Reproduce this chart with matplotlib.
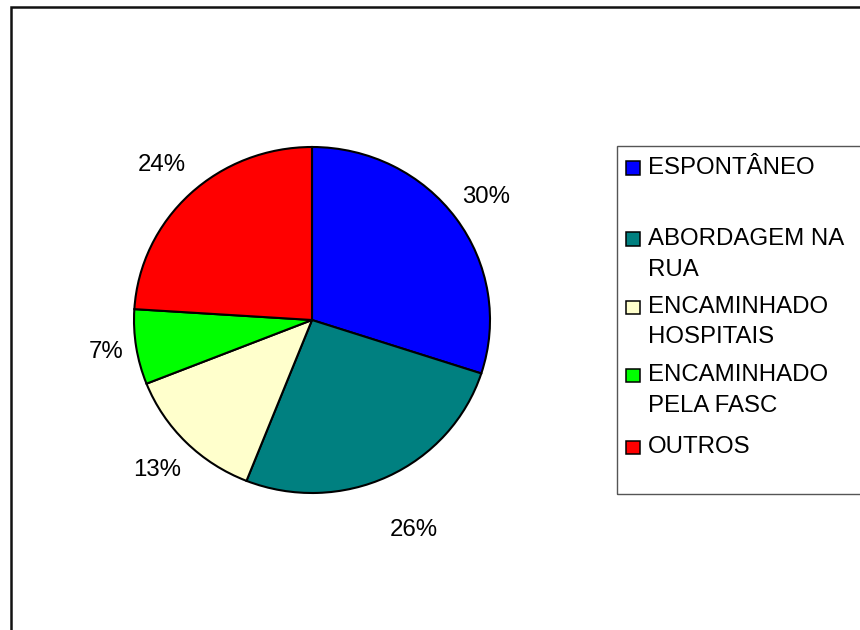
import numpy as np
import matplotlib
matplotlib.use("Agg")
import matplotlib.pyplot as plt
from matplotlib.patches import Rectangle

plt.rcParams['font.family'] = ['Liberation Sans', 'DejaVu Sans']

# Origem dos atendimentos (%)
categories = ["ESPONTÂNEO", "ABORDAGEM NA\nRUA", "ENCAMINHADO\nHOSPITAIS",
              "ENCAMINHADO\nPELA FASC", "OUTROS"]
values = [30, 26, 13, 7, 24]
colors = ["#0000FF", "#008080", "#FFFFCC", "#00FF00", "#FF0000"]

# radial placement of each percentage label (in pie radii)
label_dist = [1.21, 1.34, 1.23, 1.17, 1.23]

W, H = 860, 630
fig = plt.figure(figsize=(W / 100, H / 100), dpi=100)
fig.patch.set_facecolor("white")


def fx(x):
    return x / W


def fy(y):
    return 1 - y / H


# outer chart frame (runs past the right and bottom edges)
fig.patches.append(Rectangle((fx(10.5), -0.1), 1.2, fy(7) + 0.1,
                             transform=fig.transFigure, fill=False,
                             edgecolor="#111111", linewidth=1.8))

# pie axes: centre (312, 320), radii 178 x 173 px
rx, ry, cx, cy = 178, 173, 312, 320
ax = fig.add_axes([fx(cx - 1.5 * rx), fy(cy + 1.5 * ry), 3 * rx / W, 3 * ry / H])
wedges, texts, autotexts = ax.pie(
    values, colors=colors, startangle=90, counterclock=False,
    autopct=lambda p: f"{p:.0f}%", pctdistance=1.2,
    wedgeprops=dict(edgecolor="black", linewidth=1.5),
    textprops=dict(fontsize=17.3, color="black"))
ax.set_aspect("auto")
ax.set_xlim(-1.5, 1.5)
ax.set_ylim(-1.5, 1.5)

for w, t, d in zip(wedges, autotexts, label_dist):
    ang = np.deg2rad((w.theta1 + w.theta2) / 2)
    t.set_position((d * np.cos(ang), d * np.sin(ang)))
    t.set_ha("center")
    t.set_va("center")

# legend box
fig.patches.append(Rectangle((fx(616.5), fy(494)), 1.0, (494 - 146) / H,
                             transform=fig.transFigure, fill=False,
                             edgecolor="#555555", linewidth=1.0))

first_baselines = [174, 245, 313, 381, 453]
line_step = 30.5
for label, col, base in zip(categories, colors, first_baselines):
    fig.patches.append(Rectangle((fx(626), fy(base + 1)), 14 / W, 13.5 / H,
                                 transform=fig.transFigure, facecolor=col,
                                 edgecolor="black", linewidth=1.1))
    for i, line in enumerate(label.split("\n")):
        fig.text(fx(648), fy(base + i * line_step), line, fontsize=17.3,
                 ha="left", va="baseline", color="black")

fig.savefig("out.png", dpi=100, facecolor="white")
